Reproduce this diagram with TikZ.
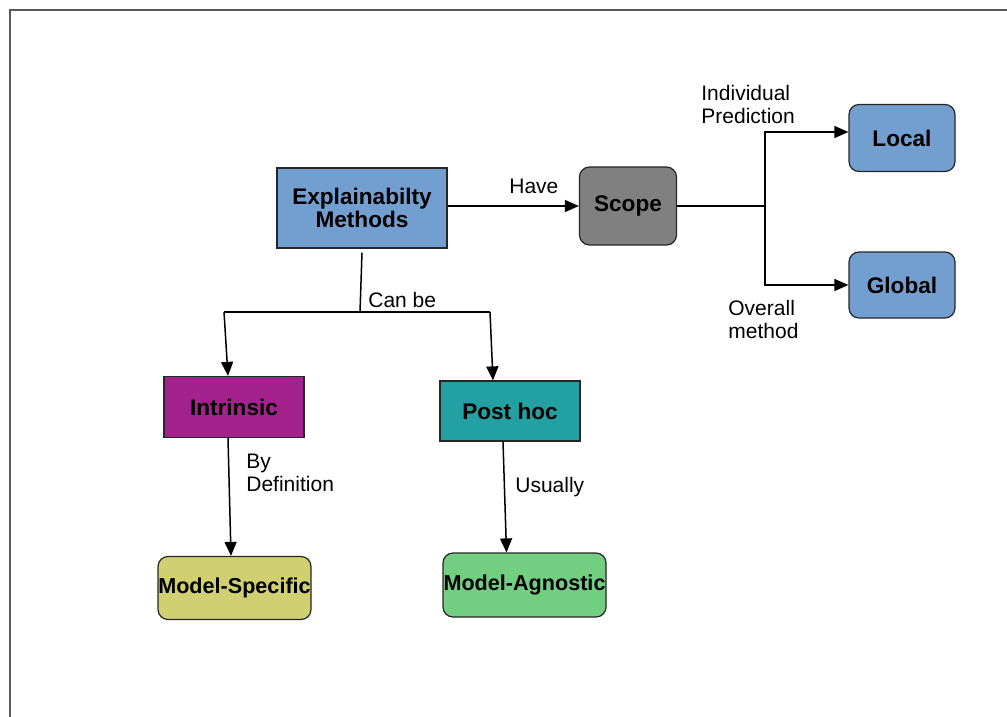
\documentclass[tikz,border=0pt]{standalone}
\usepackage{fontspec}
\setmainfont{Liberation Sans}
\usetikzlibrary{arrows.meta}

\definecolor{methodblue}{HTML}{729FCF}
\definecolor{scopegray}{HTML}{808080}
\definecolor{intrinsicpurple}{HTML}{A3228D}
\definecolor{posthocteal}{HTML}{22A0A2}
\definecolor{specificolive}{HTML}{D0CF72}
\definecolor{agnosticgreen}{HTML}{72CF82}

\tikzset{
  box/.style={draw=black!85, line width=0.6pt, font=\fontsize{11.3}{11.6}\selectfont\bfseries, align=center, inner sep=0pt},
  roundbox/.style={box, rounded corners=5pt},
  modelbox/.style={roundbox, font=\fontsize{10.8}{11.6}\selectfont\bfseries},
  link/.style={line width=0.75pt, -{Triangle[length=7pt,width=6pt]}},
  plain/.style={line width=0.75pt},
  lbl/.style={align=left, anchor=west, inner sep=0pt}
}

\begin{document}
\begin{tikzpicture}[x=0.5pt, y=-0.5pt, font=\fontsize{10.5}{11.5}\selectfont]
\useasboundingbox (0,0) rectangle (1007,717);
\draw[black!65, line width=0.75pt] (10,717) -- (10,10) -- (1007,10);

% boxes
\node[box, fill=methodblue, minimum width=85pt, minimum height=40pt] (methods) at (362,208) {Explainabilty\\Methods};
\node[roundbox, fill=scopegray, minimum width=48.5pt, minimum height=39pt] (scope) at (628,206) {Scope};
\node[roundbox, fill=methodblue, minimum width=53pt, minimum height=33.5pt] (local) at (902,138) {Local};
\node[roundbox, fill=methodblue, minimum width=53pt, minimum height=33pt] (global) at (902,285) {Global};
\node[box, fill=intrinsicpurple, minimum width=70pt, minimum height=30.5pt] (intrinsic) at (234,407) {Intrinsic};
\node[box, fill=posthocteal, minimum width=70pt, minimum height=30pt] (posthoc) at (510,411) {Post hoc};
\node[modelbox, fill=specificolive, minimum width=76.5pt, minimum height=31.5pt] (specific) at (234.5,588) {Model-Specific};
\node[modelbox, fill=agnosticgreen, minimum width=81.5pt, minimum height=32pt] (agnostic) at (524.5,585) {Model-Agnostic};

% connectors
\draw[link] (methods.east |- scope.west) -- (scope.west);
\node[lbl] (have) at (509,186) {Have};

\coordinate (split) at (765,206);
\draw[plain] (scope.east) -- (split);
\draw[link] (split) |- ([yshift=3pt]local.west);
\draw[link] (split) |- (global.west);
\node[lbl] (individual) at (701,104) {Individual\\Prediction};
\node[lbl] (overall) at (728,319) {Overall\\method};

\coordinate (canbe) at (360,312);
\coordinate (splitL) at (224,312);
\coordinate (splitR) at (490,312);
\draw[plain] ([yshift=-2pt]methods.south) -- (canbe);
\draw[plain] (splitL) -- (splitR);
\draw[link] (splitL) -- ([xshift=-3pt]intrinsic.north);
\draw[link] (splitR) -- ([xshift=-8.5pt]posthoc.north);
\node[lbl] (canbelbl) at (368,300) {Can be};

\draw[link] ([xshift=-3pt]intrinsic.south) -- ([xshift=-1.75pt]specific.north);
\node[lbl] (bydef) at (246,473) {By\\Definition};
\draw[link] ([xshift=-3.5pt]posthoc.south) -- ([xshift=-9pt]agnostic.north);
\node[lbl] (usually) at (515,487) {Usually};
\end{tikzpicture}
\end{document}
